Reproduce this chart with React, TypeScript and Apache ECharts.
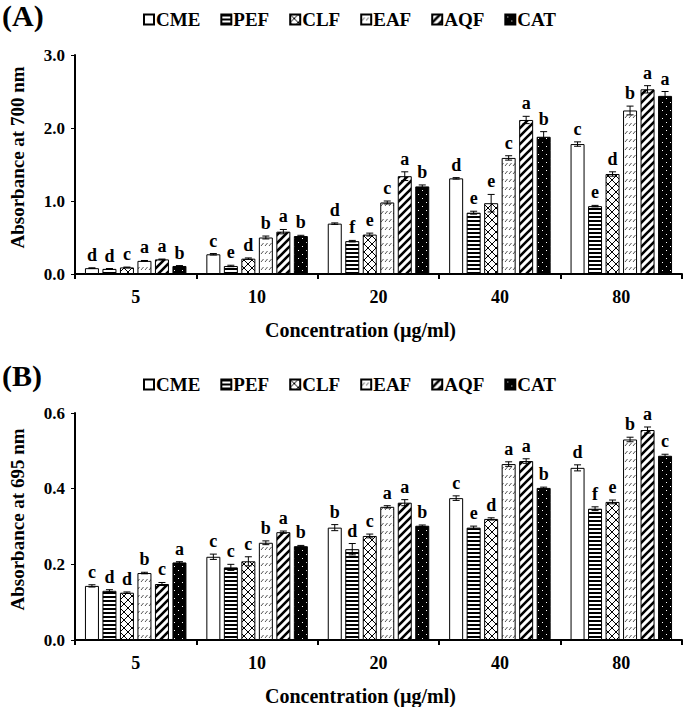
import React, { useEffect, useRef } from "react";
import * as echarts from "echarts";

const categories = ["5", "10", "20", "40", "80"];
const seriesNames = ["CME", "PEF", "CLF", "EAF", "AQF", "CAT"];

// Panel A: absorbance at 700 nm (rows = series, columns = concentration)
const aCME = [0.08, 0.27, 0.69, 1.31, 1.78];
const aPEF = [0.07, 0.11, 0.45, 0.84, 0.93];
const aCLF = [0.09, 0.21, 0.54, 0.97, 1.37];
const aEAF = [0.18, 0.5, 0.98, 1.59, 2.24];
const aAQF = [0.2, 0.58, 1.34, 2.11, 2.53];
const aCAT = [0.11, 0.52, 1.2, 1.88, 2.44];
const aErrCME = [0.005, 0.01, 0.01, 0.01, 0.03];
const aErrPEF = [0.005, 0.01, 0.01, 0.02, 0.01];
const aErrCLF = [0.005, 0.01, 0.02, 0.12, 0.03];
const aErrEAF = [0.005, 0.02, 0.02, 0.03, 0.06];
const aErrAQF = [0.005, 0.03, 0.06, 0.05, 0.05];
const aErrCAT = [0.005, 0.01, 0.02, 0.07, 0.06];
const aLetCME = ["d", "c", "d", "d", "c"];
const aLetPEF = ["d", "e", "f", "e", "e"];
const aLetCLF = ["c", "d", "e", "e", "d"];
const aLetEAF = ["a", "b", "c", "c", "b"];
const aLetAQF = ["a", "a", "a", "a", "a"];
const aLetCAT = ["b", "b", "b", "b", "a"];

// Panel B: absorbance at 695 nm
const bCME = [0.143, 0.22, 0.297, 0.375, 0.455];
const bPEF = [0.13, 0.192, 0.24, 0.297, 0.347];
const bCLF = [0.125, 0.208, 0.275, 0.32, 0.365];
const bEAF = [0.177, 0.257, 0.352, 0.465, 0.53];
const bAQF = [0.148, 0.285, 0.363, 0.473, 0.555];
const bCAT = [0.205, 0.248, 0.302, 0.402, 0.487];
const bErrCME = [0.003, 0.007, 0.008, 0.006, 0.008];
const bErrPEF = [0.003, 0.008, 0.015, 0.004, 0.005];
const bErrCLF = [0.002, 0.012, 0.005, 0.003, 0.005];
const bErrEAF = [0.002, 0.005, 0.003, 0.006, 0.006];
const bErrAQF = [0.004, 0.003, 0.008, 0.006, 0.008];
const bErrCAT = [0.002, 0.002, 0.002, 0.002, 0.004];
const bLetCME = ["c", "c", "b", "c", "d"];
const bLetPEF = ["d", "c", "d", "e", "f"];
const bLetCLF = ["d", "c", "c", "d", "e"];
const bLetEAF = ["b", "b", "a", "a", "b"];
const bLetAQF = ["c", "a", "a", "a", "a"];
const bLetCAT = ["a", "b", "b", "b", "c"];

const aValues = [aCME, aPEF, aCLF, aEAF, aAQF, aCAT];
const aErrors = [aErrCME, aErrPEF, aErrCLF, aErrEAF, aErrAQF, aErrCAT];
const aLetters = [aLetCME, aLetPEF, aLetCLF, aLetEAF, aLetAQF, aLetCAT];
const bValues = [bCME, bPEF, bCLF, bEAF, bAQF, bCAT];
const bErrors = [bErrCME, bErrPEF, bErrCLF, bErrEAF, bErrAQF, bErrCAT];
const bLetters = [bLetCME, bLetPEF, bLetCLF, bLetEAF, bLetAQF, bLetCAT];

const FONT = "Liberation Serif";
const BAR_W = 14;
const BAR_PITCH = 17.5;

function makePattern(kind: string): any {
  const c = document.createElement("canvas");
  const s = 8;
  c.width = s;
  c.height = s;
  const g = c.getContext("2d")!;
  g.fillStyle = kind === "dots" ? "#000" : "#fff";
  g.fillRect(0, 0, s, s);
  g.strokeStyle = "#000";
  g.fillStyle = "#000";
  if (kind === "hstripe") {
    g.fillRect(0, 0, s, 2);
    g.fillRect(0, 4, s, 2);
  } else if (kind === "cross") {
    g.lineWidth = 1;
    g.beginPath();
    g.moveTo(0, 0);
    g.lineTo(s, s);
    g.moveTo(s, 0);
    g.lineTo(0, s);
    g.stroke();
  } else if (kind === "dash") {
    g.strokeStyle = "#555";
    g.lineWidth = 1;
    g.beginPath();
    g.moveTo(1, 6);
    g.lineTo(3.5, 3);
    g.moveTo(5, 6);
    g.lineTo(7.5, 3);
    g.stroke();
  } else if (kind === "diag") {
    g.lineWidth = 2.6;
    g.beginPath();
    g.moveTo(-2, s + 2);
    g.lineTo(s + 2, -2);
    g.moveTo(-2, 2);
    g.lineTo(2, -2);
    g.moveTo(s - 2, s + 2);
    g.lineTo(s + 2, s - 2);
    g.stroke();
  } else if (kind === "dots") {
    g.fillStyle = "#fff";
    g.fillRect(2, 2, 1, 1);
    g.fillRect(6, 6, 1, 1);
  }
  return { image: c.toDataURL(), repeat: "repeat", imageWidth: s, imageHeight: s };
}

export default function App() {
  const ref = useRef<HTMLDivElement>(null);
  useEffect(() => {
    if (!ref.current) return;
    const chart = echarts.init(ref.current, null, { renderer: "svg" });
    const fills = [
      "#ffffff",
      makePattern("hstripe"),
      makePattern("cross"),
      makePattern("dash"),
      makePattern("diag"),
      makePattern("dots"),
    ];

    const panels = [
      { values: aValues, errors: aErrors, letters: aLetters, max: 3, interval: 1, name: "Absorbance at 700 nm", top: 55, height: 219, legendTop: 5 },
      { values: bValues, errors: bErrors, letters: bLetters, max: 0.6, interval: 0.2, name: "Absorbance at 695 nm", top: 413, height: 228, legendTop: 370 },
    ];

    const grid: any[] = [];
    const xAxis: any[] = [];
    const yAxis: any[] = [];
    const series: any[] = [];
    const legend: any[] = [];

    panels.forEach((p, pi) => {
      grid.push({ left: 74, right: 3, top: p.top, height: p.height });
      xAxis.push({
        type: "category",
        gridIndex: pi,
        data: categories,
        axisLine: { lineStyle: { color: "#000", width: 2 } },
        axisTick: { show: true, length: 5, lineStyle: { color: "#000", width: 2 } },
        axisLabel: { color: "#000", fontFamily: FONT, fontWeight: "bold", fontSize: 18, margin: 14 },
        name: "Concentration (µg/ml)",
        nameLocation: "middle",
        nameGap: 46,
        nameTextStyle: { color: "#000", fontFamily: FONT, fontWeight: "bold", fontSize: 20, padding: [0, 36, 0, 0] },
      });
      yAxis.push({
        type: "value",
        gridIndex: pi,
        min: 0,
        max: p.max,
        interval: p.interval,
        splitLine: { show: false },
        axisLine: { show: true, lineStyle: { color: "#000", width: 2 } },
        axisTick: { show: true, length: 4, lineStyle: { color: "#000", width: 1 } },
        axisLabel: {
          color: "#000",
          fontFamily: FONT,
          fontWeight: "bold",
          fontSize: 17,
          margin: 10,
          formatter: (v: number) => v.toFixed(1),
        },
        name: p.name,
        nameLocation: "middle",
        nameGap: 48,
        nameTextStyle: { color: "#000", fontFamily: FONT, fontWeight: "bold", fontSize: 19, padding: [0, 0, 0, 14] },
      });
      legend.push({
        top: p.legendTop,
        left: 138,
        data: seriesNames.map((n) => ({ name: n, icon: "rect" })),
        itemWidth: 10,
        itemHeight: 10,
        itemGap: 20,
        textStyle: { color: "#000", fontFamily: FONT, fontWeight: "bold", fontSize: 19, padding: [0, 0, 0, -3] },
      });
      seriesNames.forEach((sn, si) => {
        series.push({
          type: "bar",
          name: sn,
          xAxisIndex: pi,
          yAxisIndex: pi,
          data: p.values[si],
          barWidth: BAR_W,
          barGap: "25%",
          itemStyle: { color: fills[si], borderColor: "#000", borderWidth: 1 },
        });
      });
      const errData: any[] = [];
      seriesNames.forEach((sn, si) => {
        categories.forEach((c, ci) => {
          errData.push([ci, si, p.values[si][ci], p.errors[si][ci], p.letters[si][ci]]);
        });
      });
      series.push({
        type: "custom",
        xAxisIndex: pi,
        yAxisIndex: pi,
        z: 5,
        silent: true,
        data: errData,
        renderItem: (params: any, api: any) => {
          const d = errData[params.dataIndex];
          const ci = d[0], si = d[1], v = d[2], e = d[3], letter = d[4];
          const top = api.coord([ci, v + e]);
          const bot = api.coord([ci, v - e]);
          const x = top[0] + (si - 2.5) * BAR_PITCH;
          const cap = 3.5;
          return {
            type: "group",
            children: [
              { type: "line", shape: { x1: x, y1: top[1], x2: x, y2: bot[1] }, style: { stroke: "#000", lineWidth: 1 } },
              { type: "line", shape: { x1: x - cap, y1: top[1], x2: x + cap, y2: top[1] }, style: { stroke: "#000", lineWidth: 1 } },
              { type: "line", shape: { x1: x - cap, y1: bot[1], x2: x + cap, y2: bot[1] }, style: { stroke: "#000", lineWidth: 1 } },
              {
                type: "text",
                x: x,
                y: top[1] - 4,
                style: {
                  text: letter,
                  fill: "#000",
                  font: `bold 18px "${FONT}"`,
                  textAlign: "center",
                  textVerticalAlign: "bottom",
                },
              },
            ],
          };
        },
      });
    });

    chart.setOption({
      animation: false,
      backgroundColor: "#fff",
      grid,
      xAxis,
      yAxis,
      legend,
      series,
      graphic: [
        { type: "text", left: 2, top: 0, style: { text: "(A)", fill: "#000", font: `bold 30px "${FONT}"` } },
        { type: "text", left: 2, top: 360, style: { text: "(B)", fill: "#000", font: `bold 30px "${FONT}"` } },
      ],
    });
    return () => chart.dispose();
  }, []);
  return <div ref={ref} style={{ position: "fixed", left: 0, top: 0, width: 685, height: 707 }} />;
}
